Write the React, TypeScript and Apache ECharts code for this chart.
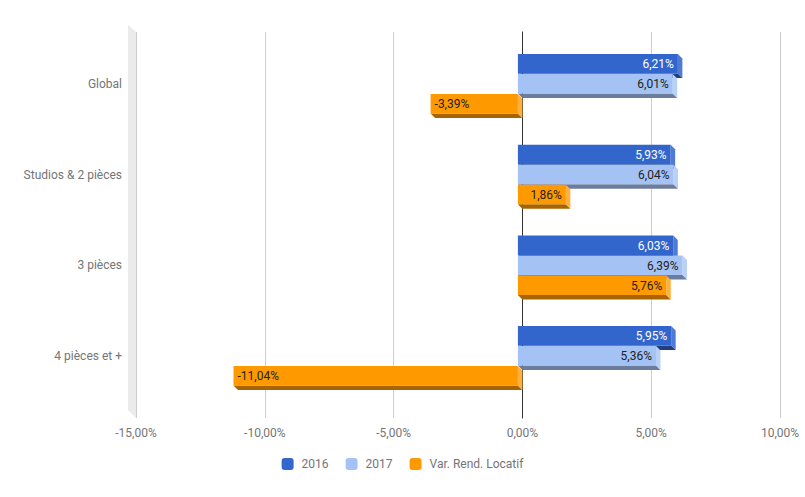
import React, { useEffect, useRef } from "react";
import * as echarts from "echarts";

const categories = ["Global", "Studios & 2 pièces", "3 pièces", "4 pièces et +"];
const seriesNames = ["2016", "2017", "Var. Rend. Locatif"];
const values2016 = [6.21, 5.93, 6.03, 5.95];
const values2017 = [6.01, 6.04, 6.39, 5.36];
const valuesVar = [-3.39, 1.86, 5.76, -11.04];
const xTicks = { min: -15, max: 10, interval: 5 };

const colors = ["#3366cc", "#a4c2f4", "#ff9900"];
const bottomColors = ["#1f3f80", "#6b7d9c", "#a86400"];
const sideColors = ["#4f7ad6", "#b9d1f7", "#ffb03e"];
const labelColors = ["#ffffff", "#222222", "#222222"];

const fmt = (v: number) => v.toFixed(2).replace(".", ",") + "%";

function makeSeries(idx: number, vals: number[]) {
  return {
    type: "custom",
    name: seriesNames[idx],
    xAxisIndex: 1,
    yAxisIndex: 1,
    itemStyle: { color: colors[idx] },
    data: vals.map((v, i) => [v, i]),
    renderItem: (params: any, api: any) => {
      const v = api.value(0);
      const c = api.value(1);
      const p0 = api.coord([0, c]);
      const p1 = api.coord([v, c]);
      const band = api.size([0, 1])[1];
      const s = band / 90.67;
      const tops = [-30, -10, 10];
      const h = 19.5 * s;
      const D = 4.5;
      const cy = p0[1];
      const y0 = cy + tops[idx] * s;
      const y1 = y0 + h;
      const xa = Math.min(p0[0], p1[0]) - D;
      const xb = Math.max(p0[0], p1[0]) - D;
      const neg = v < 0;
      return {
        type: "group",
        children: [
          {
            type: "polygon",
            shape: { points: [[xa, y1], [xb, y1], [xb + D, y1 + D], [xa + D, y1 + D]] },
            style: { fill: bottomColors[idx] },
          },
          {
            type: "polygon",
            shape: { points: [[xb, y0], [xb + D, y0 + D], [xb + D, y1 + D], [xb, y1]] },
            style: { fill: sideColors[idx] },
          },
          {
            type: "rect",
            shape: { x: xa, y: y0, width: xb - xa, height: h },
            style: { fill: colors[idx] },
          },
          {
            type: "text",
            style: {
              text: fmt(v),
              x: neg ? xa + 4 : xb - 4,
              y: (y0 + y1) / 2 + 0.5,
              align: neg ? "left" : "right",
              verticalAlign: "middle",
              fill: labelColors[idx],
              fontSize: 12,
              fontFamily: "Roboto",
            },
          },
        ],
      };
    },
  };
}

export default function App() {
  const ref = useRef<HTMLDivElement>(null);
  useEffect(() => {
    document.body.style.margin = "0";
    const chart = echarts.init(ref.current!, null, { renderer: "svg" });
    chart.setOption({
      animation: false,
      backgroundColor: "#ffffff",
      textStyle: { fontFamily: "Roboto" },
      grid: [
        { left: 136, right: 25, top: 32, bottom: 79 },
        { left: 136, right: 25, top: 38.7, bottom: 95.6 },
      ],
      xAxis: [
        {
          type: "value",
          gridIndex: 0,
          min: xTicks.min,
          max: xTicks.max,
          interval: xTicks.interval,
          axisLine: { show: false },
          axisTick: { show: false },
          splitLine: { show: true, lineStyle: { color: "#cccccc", width: 1 } },
          axisLabel: { color: "#757575", fontSize: 12, margin: 9, formatter: fmt },
        },
        { type: "value", gridIndex: 1, min: xTicks.min, max: xTicks.max, show: false },
      ],
      yAxis: [
        {
          type: "value",
          gridIndex: 0,
          min: 0,
          max: 1,
          axisLabel: { show: false },
          axisTick: { show: false },
          splitLine: { show: false },
          axisLine: { show: true, onZero: true, lineStyle: { color: "#333333", width: 1 } },
        },
        {
          type: "category",
          gridIndex: 1,
          data: categories,
          inverse: true,
          axisLine: { show: false },
          axisTick: { show: false },
          splitLine: { show: false },
          axisLabel: { color: "#757575", fontSize: 12, margin: 14 },
        },
      ],
      legend: {
        data: seriesNames,
        left: "center",
        top: 458,
        padding: 0,
        icon: "roundRect",
        itemWidth: 12,
        itemHeight: 12,
        itemGap: 17,
        textStyle: { color: "#757575", fontSize: 12, padding: [0, 0, 0, 3] },
      },
      graphic: [
        {
          type: "polygon",
          z: -1,
          shape: { points: [[128, 25], [136, 32], [136, 418], [128, 410]] },
          style: { fill: "#ebebeb" },
        },
      ],
      series: [makeSeries(0, values2016), makeSeries(1, values2017), makeSeries(2, valuesVar)],
    });
    return () => chart.dispose();
  }, []);
  return <div ref={ref} style={{ width: 805, height: 497 }} />;
}
